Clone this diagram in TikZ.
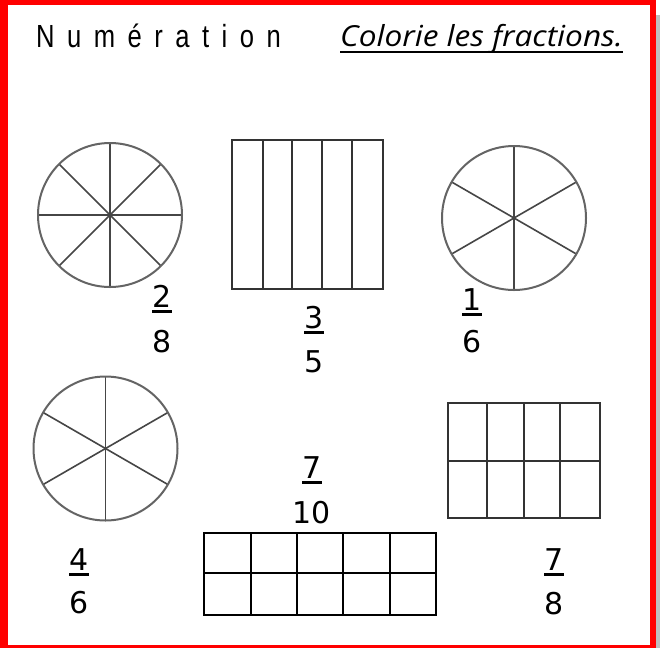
\documentclass[tikz,border=0pt]{standalone}
\usepackage{fontspec}
\usetikzlibrary{calc}
\setmainfont{DejaVu Sans}
\newfontfamily\titlefont[FakeStretch=0.8,LetterSpace=39]{Liberation Sans}
\newfontfamily\consignefont[FakeStretch=1.09]{Open Sans}
\definecolor{bordred}{RGB}{255,0,0}
\definecolor{shadowgray}{RGB}{190,190,190}
\definecolor{spoke}{RGB}{70,70,70}
\definecolor{rim}{RGB}{100,100,100}
\tikzset{
  digit/.style={inner sep=0pt, anchor=base, font=\fontsize{30}{30}\selectfont},
  uline/.style={line width=3pt},
  wheel/.style={draw=rim, line width=2pt},
  spokeline/.style={draw=spoke, line width=1.6pt},
  barbox/.style={draw=black!80, line width=2pt},
  gridbox/.style={draw=black, line width=1.3pt},
}
\begin{document}
\begin{tikzpicture}[x=1pt,y=-1pt]
\useasboundingbox (0,0) rectangle (660,648);
% frame with shadow
\fill[shadowgray] (652,15) rectangle (660,648);
\fill[bordred] (0,0) rectangle (656,648);
\fill[white] (8,5) rectangle (650,645);
% title
\node[inner sep=0pt, anchor=base west, font=\titlefont\fontsize{32}{32}\selectfont] (titre) at (36,47) {Numération};
\node[inner sep=0pt, anchor=base west, font=\consignefont\itshape\fontsize{29}{29}\selectfont] (consigne) at (340,46) {Colorie les fractions.};
\draw[line width=2.5pt] ([yshift=-6pt]consigne.base west) -- ([yshift=-6pt]consigne.base east);

% circle 8 parts
\coordinate (c1) at (110,215);
\foreach \a in {0,45,90,135} \draw[spokeline] ($(c1)+(\a:72)$) -- ($(c1)+(\a+180:72)$);
\draw[wheel] (c1) circle (72);

% rectangle 5 columns
\foreach \x in {263,292,322,352} \draw[barbox] (\x,140) -- (\x,289);
\draw[barbox] (232,140) rectangle (383,289);

% circle 6 parts (top right)
\coordinate (c2) at (514,218);
\foreach \a in {90,30,150} \draw[spokeline] ($(c2)+(\a:72)$) -- ($(c2)+(\a+180:72)$);
\draw[wheel] (c2) circle (72);

% circle 6 parts (bottom left)
\coordinate (c3) at (105.5,448.5);
\foreach \a in {90,30,150} \draw[spokeline] ($(c3)+(\a:72)$) -- ($(c3)+(\a+180:72)$);
\draw[wheel] (c3) circle (72);

% grid 2x5
\foreach \x in {251,297,343,390} \draw[gridbox] (\x,533) -- (\x,615);
\draw[gridbox] (204,573) -- (436,573);
\draw[gridbox] (204,533) rectangle (436,615);

% grid 2x4
\foreach \x in {487,524,560} \draw[barbox] (\x,403) -- (\x,518);
\draw[barbox] (448,461) -- (600,461);
\draw[barbox] (448,403) rectangle (600,518);

% fractions
\node[digit] (n1) at (162,307) {2};
\node[digit] (d1) at (162,352) {8};
\node[digit] (n2) at (314,328) {3};
\node[digit] (d2) at (314,372) {5};
\node[digit] (n3) at (472,310) {1};
\node[digit] (d3) at (472,352) {6};
\node[digit] (n4) at (79,570) {4};
\node[digit] (d4) at (79,613) {6};
\node[digit] (n5) at (312,478) {7};
\node[digit] (d5) at (312,523) {10};
\node[digit] (n6) at (554,570) {7};
\node[digit] (d6) at (554,614) {8};
\foreach \n in {n1,n2,n3,n4,n5,n6}
  \draw[uline] ([yshift=-4pt]\n.base west) -- ([yshift=-4pt]\n.base east);
\end{tikzpicture}
\end{document}
